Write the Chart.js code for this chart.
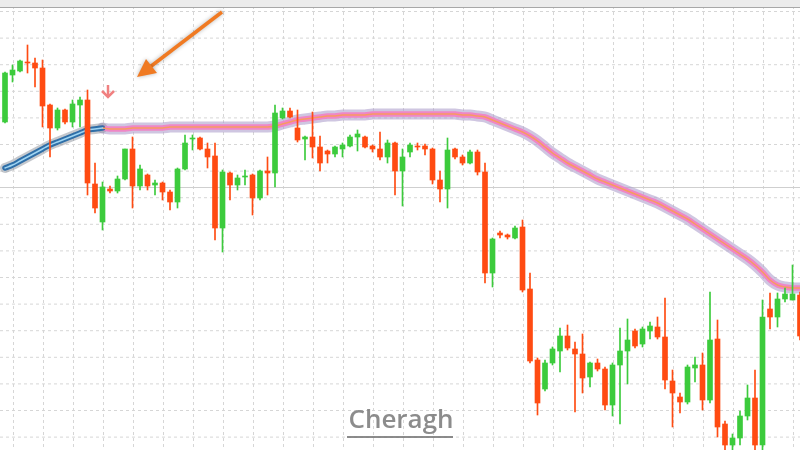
<!DOCTYPE html>
<html lang="en">
<head>
    <meta charset="UTF-8">
    <title>Candles with moving average</title>
    <script src="https://cdn.jsdelivr.net/npm/chart.js"></script>
    <style>
        body { margin: 0; background: #fff; }
        #wrap { width: 800px; height: 450px; }
    </style>
</head>
<body>
    <div id="wrap"><canvas id="chart"></canvas></div>
    <script>
        // candle values (axis runs top-down)
        const opens  = [122,75,71,62,63,68,105,128,110,122,105,100,184,222,189,191,179,149,186,175,185,183,192,202,169,139,138,149,156,228,173,185,177,175,198,171,173,118,111,128,139,137,147,151,154,149,146,137,137,146,149,157,143,171,152,146,146,149,180,189,149,157,163,152,172,273,233,235,238,227,289,360,389,363,351,336,349,354,377,363,369,405,365,351,331,344,331,327,337,381,397,402,368,365,400,339,424,445,438,416,398,445,309,317,299,300,295];
        const closes = [73,70,61,63,68,106,128,110,122,104,100,183,208,187,191,179,149,186,169,186,183,192,202,169,143,138,149,157,228,172,185,178,176,198,171,173,113,111,117,140,137,147,163,154,147,145,137,134,147,149,157,143,171,157,145,147,149,180,189,150,157,163,152,172,273,239,235,237,228,290,361,403,363,349,336,348,354,378,363,369,405,365,351,340,346,329,326,337,380,393,402,367,365,400,340,427,445,438,416,398,445,317,317,299,294,294,336];
        const highs  = [72,65,60,45,58,60,104,108,109,100,97,90,163,182,186,176,149,137,165,174,180,182,190,168,135,135,137,143,143,170,172,175,170,174,170,157,105,108,108,110,136,112,136,150,146,143,135,130,136,145,132,140,142,149,143,143,144,148,171,138,148,155,150,150,163,238,231,234,226,220,273,358,360,347,328,325,342,334,362,359,367,363,328,319,329,327,322,317,298,370,393,365,357,353,292,320,421,434,411,385,370,300,293,293,288,265,292];
        const lows   = [123,82,72,73,87,127,157,130,124,127,127,195,213,230,193,193,180,208,190,190,195,200,210,208,170,150,150,168,240,252,200,190,185,215,200,195,187,119,118,142,160,158,171,163,157,157,147,151,148,152,160,163,195,206,157,150,155,184,202,208,159,165,164,175,283,287,238,239,239,292,363,415,391,365,372,350,412,393,387,371,410,416,424,384,348,347,339,339,389,427,413,404,382,410,403,437,452,452,445,420,452,455,329,327,302,300,340];
        // moving average, blue part then pink part
        const maBlue = [168,165,161,157,153,149,145,142,139,136,133,130,129,128];
        const maPink = [128,129,129,129,128,128,128,128,128,127,127,127,127,127,127,127,127,127,127,127,127,127,127,
            126,124,122,120,119,118,117,116,116,115,115,115,115,114,114,114,114,
            114,114,114,114,114,114,114,114,115,115,116,117,120,123,
            126,129,132,136,141,147,153,158,163,167,171,175,179,182,
            185,188,191,194,197,200,203,207,211,215,219,224,229,234,
            239,244,249,254,259,265,272,280,285,287,288,288];

        const green = '#3ccb3c';
        const red = '#ff4b12';
        const up = opens.map((o, i) => closes[i] < o);
        const bodies = opens.map((o, i) => ({ x: i, y: [o, closes[i] === o ? o + 1 : closes[i]] }));
        const wicks = opens.map((o, i) => ({ x: i, y: [lows[i], highs[i]] }));
        const colors = up.map(u => u ? green : red);
        const blueData = maBlue.map((v, i) => ({ x: i, y: v }));
        const pinkData = maPink.map((v, i) => ({ x: i + 13, y: v }));

        function maLine(data, color, width, order) {
            return { type: 'line', data: data, borderColor: color, borderWidth: width,
                pointRadius: 0, tension: 0.3, order: order, borderCapStyle: 'round', borderJoinStyle: 'round' };
        }

        const decor = {
            id: 'decor',
            beforeDatasetsDraw(chart) {
                const c = chart.ctx;
                c.save();
                c.strokeStyle = '#d6d6d6';
                c.lineWidth = 1;
                c.setLineDash([3, 3]);
                for (let x = 13; x < 800; x += 30) {
                    c.beginPath(); c.moveTo(x + 0.5, 0); c.lineTo(x + 0.5, 450); c.stroke();
                }
                for (let y = 11.5; y < 450; y += 26.6) {
                    c.beginPath(); c.moveTo(0, y); c.lineTo(800, y); c.stroke();
                }
                c.setLineDash([]);
                c.strokeStyle = '#cfcfcf';
                c.beginPath(); c.moveTo(0, 187.5); c.lineTo(800, 187.5); c.stroke();
                // top strip
                c.fillStyle = '#ececec';
                c.fillRect(0, 0, 800, 7);
                c.strokeStyle = '#a8a8a8';
                c.beginPath(); c.moveTo(0, 7.5); c.lineTo(800, 7.5); c.stroke();
                c.restore();
            },
            afterDraw(chart) {
                const c = chart.ctx;
                c.save();
                // big orange arrow
                c.strokeStyle = '#f07a22';
                c.fillStyle = '#f07a22';
                c.lineWidth = 3.5;
                c.shadowColor = 'rgba(0,0,0,0.3)';
                c.shadowBlur = 4;
                c.beginPath(); c.moveTo(222, 12); c.lineTo(150, 67); c.stroke();
                c.beginPath(); c.moveTo(137, 77); c.lineTo(146, 59); c.lineTo(157, 73); c.closePath(); c.fill();
                c.shadowBlur = 0;
                // small signal arrow
                c.strokeStyle = '#f08080';
                c.lineWidth = 2.5;
                c.beginPath(); c.moveTo(108, 85); c.lineTo(108, 96); c.stroke();
                c.beginPath(); c.moveTo(102, 91); c.lineTo(108, 97); c.lineTo(114, 91); c.stroke();
                // watermark
                c.font = '600 26px "Open Sans", sans-serif';
                c.fillStyle = 'rgba(120,120,120,0.85)';
                c.textAlign = 'center';
                c.textBaseline = 'middle';
                c.fillText('Cheragh', 401, 421);
                c.fillRect(347, 436, 106, 2);
                c.restore();
            }
        };

        new Chart(document.getElementById('chart'), {
            type: 'bar',
            data: {
                datasets: [
                    { data: wicks, backgroundColor: colors, barThickness: 1, grouped: false, order: 1 },
                    { data: bodies, backgroundColor: colors, barThickness: 5, grouped: false, order: 0 },
                    maLine(blueData, 'rgba(140,145,155,0.5)', 10, 5),
                    maLine(blueData, '#2f6fa8', 5.5, 4),
                    maLine(blueData, '#9ed4f2', 1.5, 3),
                    maLine(pinkData, 'rgba(175,160,205,0.6)', 11, 5),
                    maLine(pinkData, '#ef86c6', 5.5, 4),
                    maLine(pinkData, '#f79a62', 1.5, 3)
                ]
            },
            options: {
                responsive: true,
                maintainAspectRatio: false,
                animation: false,
                layout: { padding: 0 },
                plugins: { legend: { display: false }, tooltip: { enabled: false } },
                scales: {
                    x: { type: 'linear', display: false, offset: false, min: -0.667, max: 106 },
                    y: { display: false, reverse: true, min: 0, max: 450 }
                }
            },
            plugins: [decor]
        });
    </script>
</body>
</html>
